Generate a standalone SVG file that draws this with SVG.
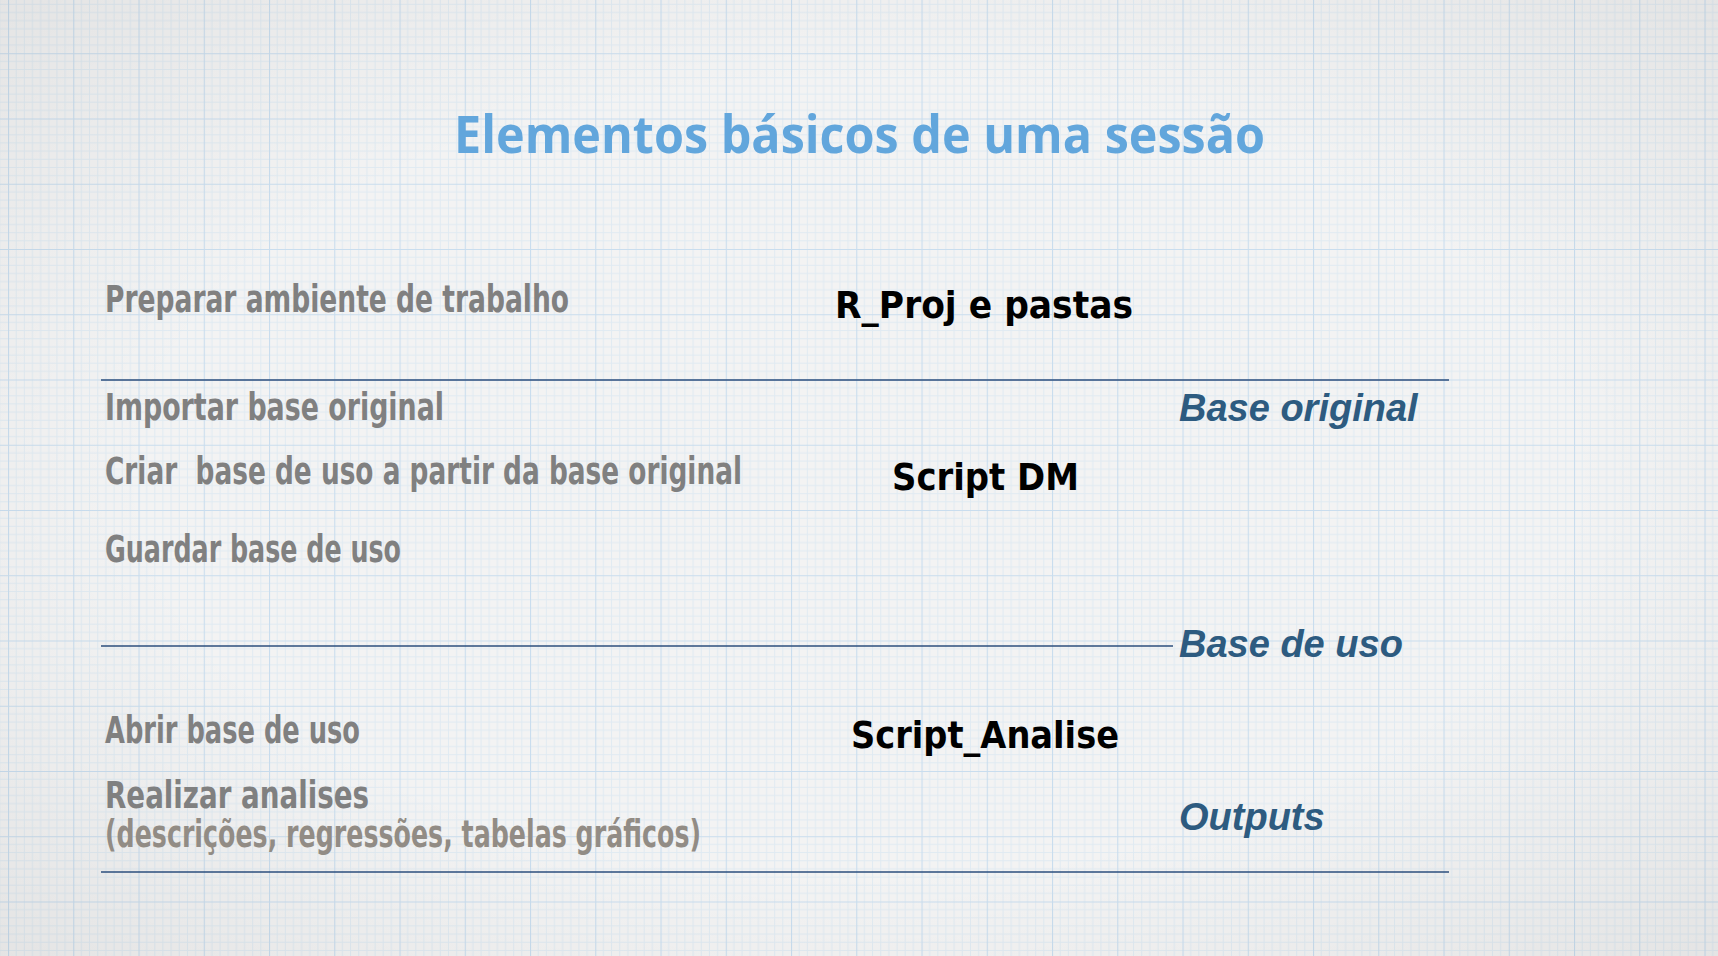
<svg xmlns="http://www.w3.org/2000/svg" width="1718" height="956" viewBox="0 0 1718 956">
  <defs>
    <pattern id="grid" patternUnits="userSpaceOnUse" x="8" y="-12" width="65.25" height="65.25">
      <path d="M8.16 0V65.25M16.31 0V65.25M24.47 0V65.25M32.62 0V65.25M40.78 0V65.25M48.94 0V65.25M57.09 0V65.25M0 8.16H65.25M0 16.31H65.25M0 24.47H65.25M0 32.62H65.25M0 40.78H65.25M0 48.94H65.25M0 57.09H65.25" stroke="#e0eaf2" stroke-width="1" fill="none"/>
      <path d="M0.5 0V65.25M0 0.5H65.25" stroke="#c9ddee" stroke-width="1.2" fill="none"/>
    </pattern>
    <radialGradient id="vig" cx="50%" cy="50%" r="75%">
      <stop offset="0.55" stop-color="#000" stop-opacity="0"/>
      <stop offset="1" stop-color="#000" stop-opacity="0.07"/>
    </radialGradient>
  </defs>
  <style>
    .step { font-family: "Liberation Sans Narrow", "DejaVu Sans Condensed", "Liberation Sans", sans-serif; font-weight: bold; font-size: 37px; fill: #808080; }
    .step2 { fill: #928c85; }
    .tool { font-family: "DejaVu Sans", "Liberation Sans", sans-serif; font-weight: bold; font-size: 38px; fill: #000000; }
    .data { font-family: "Liberation Sans", Arial, sans-serif; font-weight: bold; font-style: italic; font-size: 38px; fill: #2d5b80; }
    .title { font-family: "Open Sans", "Noto Sans", "DejaVu Sans", sans-serif; font-weight: bold; font-size: 52px; fill: #62a6dc; }
    .rule { stroke: #2b4e7c; stroke-width: 1.3; fill: none; }
  </style>
  <rect width="1718" height="956" fill="#f3f3f3"/>
  <rect width="1718" height="956" fill="url(#grid)"/>
  <rect width="1718" height="956" fill="url(#vig)"/>

  <g id="title">
    <text class="title" x="454" y="153" textLength="811" lengthAdjust="spacingAndGlyphs">Elementos básicos de uma sessão</text>
  </g>

  <g id="connectors">
    <line class="rule" x1="101" y1="380" x2="1449" y2="380"/>
    <line class="rule" x1="101" y1="646" x2="1173" y2="646"/>
    <line class="rule" x1="101" y1="872" x2="1449" y2="872"/>
  </g>

  <g id="step-preparar">
    <text class="step" x="105" y="312" textLength="464" lengthAdjust="spacingAndGlyphs">Preparar ambiente de trabalho</text>
  </g>
  <g id="step-importar">
    <text class="step" x="105" y="420" textLength="339" lengthAdjust="spacingAndGlyphs">Importar base original</text>
  </g>
  <g id="step-criar">
    <text class="step" x="105" y="484" textLength="637" lengthAdjust="spacingAndGlyphs" xml:space="preserve">Criar  base de uso a partir da base original</text>
  </g>
  <g id="step-guardar">
    <text class="step" x="105" y="562" textLength="296" lengthAdjust="spacingAndGlyphs">Guardar base de uso</text>
  </g>
  <g id="step-abrir">
    <text class="step" x="105" y="743" textLength="255" lengthAdjust="spacingAndGlyphs">Abrir base de uso</text>
  </g>
  <g id="step-realizar">
    <text class="step" x="105" y="808" textLength="264" lengthAdjust="spacingAndGlyphs">Realizar analises</text>
    <text class="step step2" x="105" y="847" textLength="596" lengthAdjust="spacingAndGlyphs">(descrições, regressões, tabelas gráficos)</text>
  </g>

  <g id="tool-rproj">
    <text class="tool" x="835" y="318" textLength="298" lengthAdjust="spacingAndGlyphs">R_Proj e pastas</text>
  </g>
  <g id="tool-scriptdm">
    <text class="tool" x="892" y="490" textLength="187" lengthAdjust="spacingAndGlyphs">Script DM</text>
  </g>
  <g id="tool-analise">
    <text class="tool" x="851" y="748" textLength="268" lengthAdjust="spacingAndGlyphs">Script_Analise</text>
  </g>

  <g id="data-original">
    <text class="data" x="1179" y="421">Base original</text>
  </g>
  <g id="data-uso">
    <text class="data" x="1179" y="657">Base de uso</text>
  </g>
  <g id="data-outputs">
    <text class="data" x="1179" y="830">Outputs</text>
  </g>
</svg>
